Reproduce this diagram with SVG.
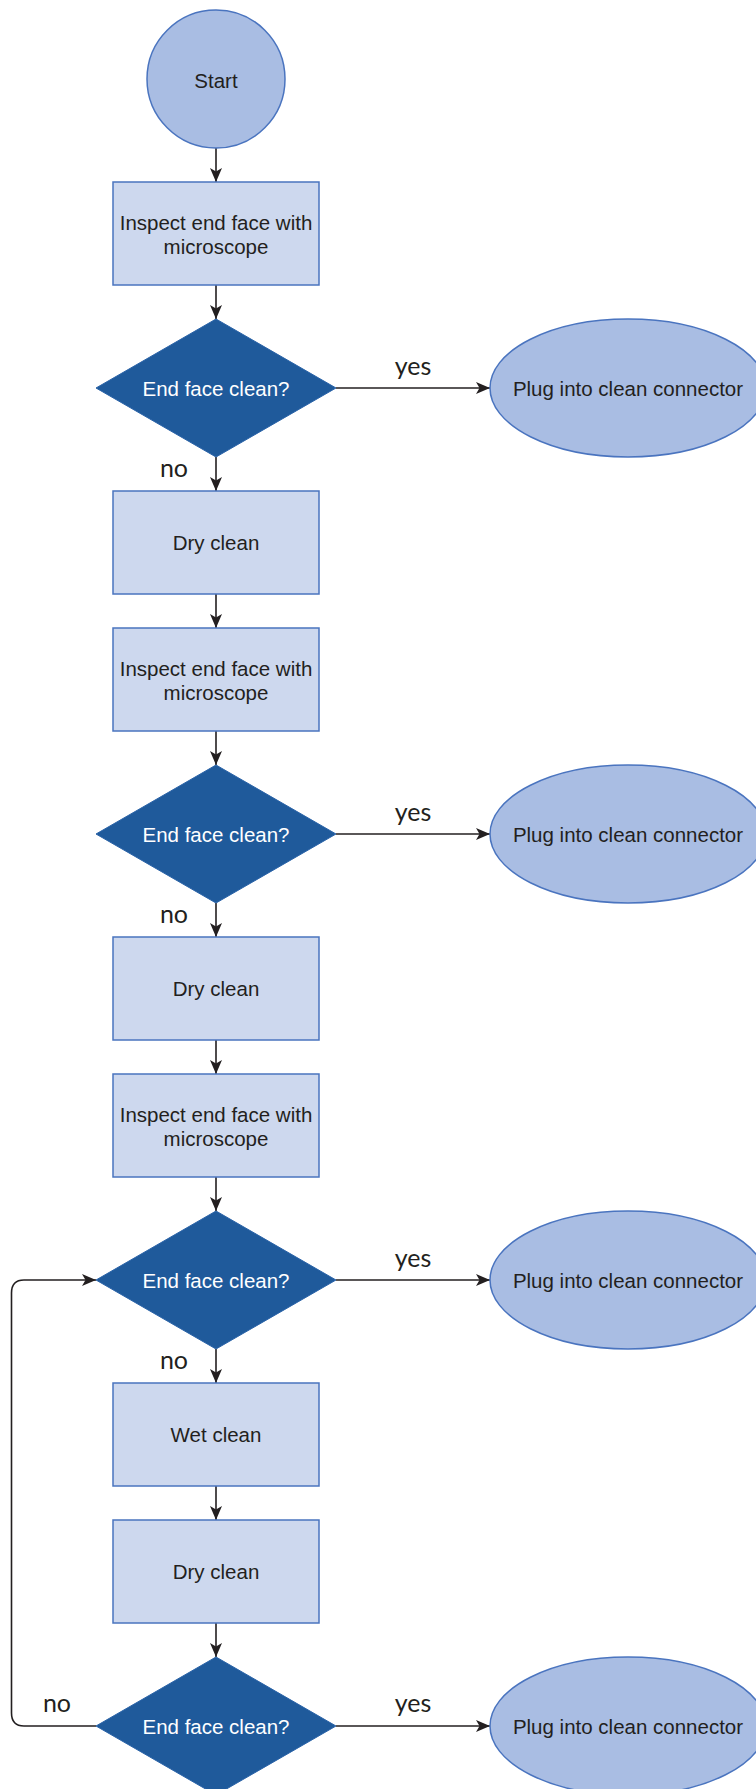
<svg xmlns="http://www.w3.org/2000/svg" width="756" height="1789" viewBox="0 0 756 1789">
<style>
.term{fill:#A9BDE3;stroke:#4A74BF;stroke-width:1.5}
.proc{fill:#CDD8EE;stroke:#4A74BF;stroke-width:1.5}
.dec{fill:#1F5A9B;stroke:#2A63A8;stroke-width:1}
.t{font-family:"Liberation Sans",Arial,sans-serif;font-size:20.5px;fill:#231F20;text-anchor:middle;dominant-baseline:central}
.tw{font-family:"Liberation Sans",Arial,sans-serif;font-size:20.5px;fill:#FFFFFF;text-anchor:middle;dominant-baseline:central}
.lbl{font-family:Lato,"Open Sans",sans-serif;font-size:25px;fill:#231F20;text-anchor:middle;dominant-baseline:central}
.c{fill:none;stroke:#231F20;stroke-width:1.6}
</style>
<defs>
<marker id="ah" viewBox="0 0 14 14" refX="14" refY="7" markerWidth="14" markerHeight="14" markerUnits="userSpaceOnUse" orient="auto">
<path d="M0,1 L14,7 L0,13 L3.5,7 Z" fill="#231F20"/>
</marker>
</defs>
<g id="connectors">
<path class="c" d="M216,148 V182" marker-end="url(#ah)"/>
<path class="c" d="M216,285 V319" marker-end="url(#ah)"/>
<path class="c" d="M216,457 V491" marker-end="url(#ah)"/>
<path class="c" d="M216,594 V628" marker-end="url(#ah)"/>
<path class="c" d="M216,731 V765" marker-end="url(#ah)"/>
<path class="c" d="M216,903 V937" marker-end="url(#ah)"/>
<path class="c" d="M216,1040 V1074" marker-end="url(#ah)"/>
<path class="c" d="M216,1177 V1211" marker-end="url(#ah)"/>
<path class="c" d="M216,1349 V1383" marker-end="url(#ah)"/>
<path class="c" d="M216,1486 V1520" marker-end="url(#ah)"/>
<path class="c" d="M216,1623 V1657" marker-end="url(#ah)"/>
<path class="c" d="M336,388 H490" marker-end="url(#ah)"/>
<path class="c" d="M336,834 H490" marker-end="url(#ah)"/>
<path class="c" d="M336,1280 H490" marker-end="url(#ah)"/>
<path class="c" d="M336,1726 H490" marker-end="url(#ah)"/>
<path class="c" d="M96,1726 H24 Q11.5,1726 11.5,1713 V1293 Q11.5,1280 24,1280 H96" marker-end="url(#ah)"/>
<text class="lbl" x="413" y="365">yes</text>
<text class="lbl" x="174" y="467">no</text>
<text class="lbl" x="413" y="811">yes</text>
<text class="lbl" x="174" y="913">no</text>
<text class="lbl" x="413" y="1257">yes</text>
<text class="lbl" x="174" y="1359">no</text>
<text class="lbl" x="413" y="1702">yes</text>
<text class="lbl" x="57" y="1702">no</text>
</g>
<g id="start">
<circle class="term" cx="216" cy="79" r="69"/>
<text class="t" x="216" y="80">Start</text>
</g>
<g id="inspect1">
<rect class="proc" x="113" y="182" width="206" height="103"/>
<text class="t" x="216" y="222">Inspect end face with</text>
<text class="t" x="216" y="246">microscope</text>
</g>
<g id="decision1">
<polygon class="dec" points="216,319 336,388 216,457 96,388"/>
<text class="tw" x="216" y="388">End face clean?</text>
</g>
<g id="plug1">
<ellipse class="term" cx="628" cy="388" rx="138" ry="69"/>
<text class="t" x="628" y="388">Plug into clean connector</text>
</g>
<g id="dry1">
<rect class="proc" x="113" y="491" width="206" height="103"/>
<text class="t" x="216" y="542">Dry clean</text>
</g>
<g id="inspect2">
<rect class="proc" x="113" y="628" width="206" height="103"/>
<text class="t" x="216" y="668">Inspect end face with</text>
<text class="t" x="216" y="692">microscope</text>
</g>
<g id="decision2">
<polygon class="dec" points="216,765 336,834 216,903 96,834"/>
<text class="tw" x="216" y="834">End face clean?</text>
</g>
<g id="plug2">
<ellipse class="term" cx="628" cy="834" rx="138" ry="69"/>
<text class="t" x="628" y="834">Plug into clean connector</text>
</g>
<g id="dry2">
<rect class="proc" x="113" y="937" width="206" height="103"/>
<text class="t" x="216" y="988">Dry clean</text>
</g>
<g id="inspect3">
<rect class="proc" x="113" y="1074" width="206" height="103"/>
<text class="t" x="216" y="1114">Inspect end face with</text>
<text class="t" x="216" y="1138">microscope</text>
</g>
<g id="decision3">
<polygon class="dec" points="216,1211 336,1280 216,1349 96,1280"/>
<text class="tw" x="216" y="1280">End face clean?</text>
</g>
<g id="plug3">
<ellipse class="term" cx="628" cy="1280" rx="138" ry="69"/>
<text class="t" x="628" y="1280">Plug into clean connector</text>
</g>
<g id="wet">
<rect class="proc" x="113" y="1383" width="206" height="103"/>
<text class="t" x="216" y="1434">Wet clean</text>
</g>
<g id="dry3">
<rect class="proc" x="113" y="1520" width="206" height="103"/>
<text class="t" x="216" y="1571">Dry clean</text>
</g>
<g id="decision4">
<polygon class="dec" points="216,1657 336,1726 216,1795 96,1726"/>
<text class="tw" x="216" y="1726">End face clean?</text>
</g>
<g id="plug4">
<ellipse class="term" cx="628" cy="1726" rx="138" ry="69"/>
<text class="t" x="628" y="1726">Plug into clean connector</text>
</g>
</svg>
